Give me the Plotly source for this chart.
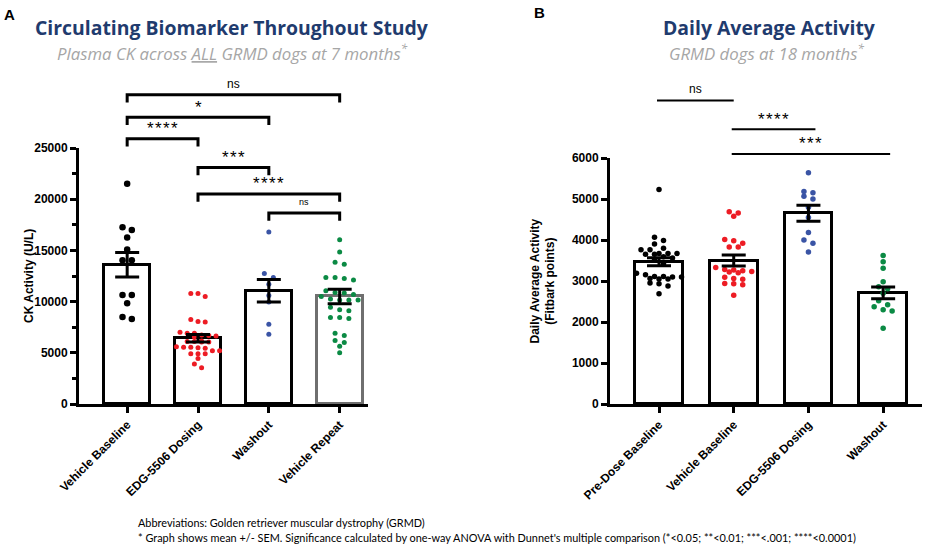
import plotly.graph_objects as go

# ---------------- data ----------------
A_categories = ["Vehicle Baseline", "EDG-5506 Dosing", "Washout", "Vehicle Repeat"]
A_mean = [13600, 6420, 11050, 10500]
A_sem = [1190, 360, 1100, 700]
A_vehicle_baseline = [21500, 17250, 17000, 16250, 15100, 14050, 14050, 10650, 10650, 9850, 8500, 8300]
A_edg_dosing = [10800, 10800, 10500, 8250, 8050, 8000, 7000, 6900, 6900, 6750, 6700, 6650, 6550, 6150,
                6100, 6100, 6050, 6050, 5600, 5550, 5550, 5500, 5450, 5200, 5200, 4900, 4900, 4900,
                4450, 3900, 3550]
A_washout = [16800, 12750, 12350, 11700, 10600, 9950, 7800, 6800]
A_vehicle_repeat = [16050, 14850, 13850, 13650, 12350, 12350, 12250, 12100, 11050, 10900, 10850, 10700,
                    10500, 10250, 10150, 10150, 10150, 9450, 9200, 9100, 8450, 8450, 8350, 6900, 6700,
                    6200, 6000, 5650, 5000]
A_yticks = [0, 5000, 10000, 15000, 20000, 25000]

B_categories = ["Pre-Dose Baseline", "Vehicle Baseline", "EDG-5506 Dosing", "Washout"]
B_mean = [3470, 3500, 4650, 2710]
B_sem = [100, 135, 195, 145]
B_predose = [5230, 4070, 3990, 3900, 3800, 3760, 3760, 3670, 3670, 3670, 3650, 3650, 3590, 3560, 3520,
             3420, 3190, 3150, 3110, 3110, 3100, 3100, 3060, 3050, 3050, 2950, 2930, 2880, 2690]
B_vehicle_baseline = [4690, 4660, 4580, 4010, 3980, 3920, 3830, 3830, 3330, 3280, 3270, 3250, 3230, 3220,
                      3200, 3090, 3060, 3040, 2940, 2930, 2910, 2650]
B_edg_dosing = [5640, 5180, 5150, 5070, 5000, 4800, 4550, 4180, 4000, 3920, 3710]
B_washout = [3620, 3470, 3310, 2980, 2860, 2810, 2700, 2520, 2420, 2370, 2300, 2270, 1850]
B_yticks = [0, 1000, 2000, 3000, 4000, 5000, 6000]

# significance comparisons: (from, to, label, bracket level in data units)
A_sig = [(0, 3, "ns", 30200), (0, 2, "*", 28000), (0, 1, "****", 25900),
         (1, 2, "***", 23100), (1, 3, "****", 20500), (2, 3, "ns", 18650)]
B_sig = [(0, 1, "ns", 7400), (1, 2, "****", 6700), (1, 3, "***", 6100)]

# ---------------- geometry ----------------
W, H = 936, 546
A_xdom = [79 / W, 368 / W]
A_ydom = [1 - 404 / H, 1 - 148 / H]
A_xr = [-0.68, 3.4]
A_yr = [0, 25000]
B_xdom = [610 / W, 922 / W]
B_ydom = [1 - 404 / H, 1 - 158 / H]
B_xr = [-0.656, 3.52]
B_yr = [0, 6000]

BLACK, RED, BLUE, GREEN, GRAY = "#000000", "#ED1C24", "#3A54A5", "#0B8A44", "#6F6F6F"
NAVY, SUBGRAY = "#1F3B6E", "#A6A6A6"
TF = "Liberation Sans, Arial, sans-serif"
HF = "Open Sans, Lato, sans-serif"
FF = "Lato, Calibri, sans-serif"


def px_per_val(ydom, yr):
    return (ydom[1] - ydom[0]) * H / (yr[1] - yr[0])


def px_per_cat(xdom, xr):
    return (xdom[1] - xdom[0]) * W / (xr[1] - xr[0])


def swarm(vals, ppv, ppc, spacing_px, row_px):
    order = sorted(range(len(vals)), key=lambda i: -vals[i])
    rows = []
    for i in order:
        if rows and (vals[rows[-1][0]] - vals[i]) * ppv <= row_px:
            rows[-1].append(i)
        else:
            rows.append([i])
    offs = [0.0] * len(vals)
    for r in rows:
        n = len(r)
        for k, i in enumerate(r):
            offs[i] = (k - (n - 1) / 2) * spacing_px / ppc
    return offs


def xp(c, xdom, xr):
    return xdom[0] + (c - xr[0]) / (xr[1] - xr[0]) * (xdom[1] - xdom[0])


def yp(v, ydom, yr):
    return ydom[0] + (v - yr[0]) / (yr[1] - yr[0]) * (ydom[1] - ydom[0])


def stars(lab):
    return "\u200a".join(lab)


fig = go.Figure()

# ---------------- Panel A ----------------
fig.add_trace(go.Bar(x=list(range(4)), y=A_mean, width=0.65, xaxis="x", yaxis="y",
                     marker=dict(color="white", line=dict(color=[BLACK, BLACK, BLACK, GRAY], width=3)),
                     showlegend=False, hoverinfo="skip"))
ppvA, ppcA = px_per_val(A_ydom, A_yr), px_per_cat(A_xdom, A_xr)
for idx, (vals, col, size, sp) in enumerate([(A_vehicle_baseline, BLACK, 6.5, 9.3),
                                             (A_edg_dosing, RED, 5, 7.2),
                                             (A_washout, BLUE, 5, 9.0),
                                             (A_vehicle_repeat, GREEN, 5, 9.2)]):
    offs = swarm(vals, ppvA, ppcA, sp, 4.5)
    fig.add_trace(go.Scatter(x=[idx + o for o in offs], y=vals, mode="markers", xaxis="x", yaxis="y",
                             marker=dict(color=col, size=size, line=dict(width=0)),
                             showlegend=False, hoverinfo="y"))
fig.add_trace(go.Scatter(x=list(range(4)), y=A_mean, mode="markers", xaxis="x", yaxis="y",
                         marker=dict(size=1, color="rgba(0,0,0,0)"),
                         error_y=dict(type="data", array=A_sem, color=BLACK, thickness=3, width=12),
                         showlegend=False, hoverinfo="skip"))

# ---------------- Panel B ----------------
fig.add_trace(go.Bar(x=list(range(4)), y=B_mean, width=0.64, xaxis="x2", yaxis="y2",
                     marker=dict(color="white", line=dict(color=BLACK, width=3)),
                     showlegend=False, hoverinfo="skip"))
ppvB, ppcB = px_per_val(B_ydom, B_yr), px_per_cat(B_xdom, B_xr)
for idx, (vals, col) in enumerate([(B_predose, BLACK), (B_vehicle_baseline, RED),
                                   (B_edg_dosing, BLUE), (B_washout, GREEN)]):
    offs = swarm(vals, ppvB, ppcB, 9.0, 4.5)
    fig.add_trace(go.Scatter(x=[idx + o for o in offs], y=vals, mode="markers", xaxis="x2", yaxis="y2",
                             marker=dict(color=col, size=5.5, line=dict(width=0)),
                             showlegend=False, hoverinfo="y"))
fig.add_trace(go.Scatter(x=list(range(4)), y=B_mean, mode="markers", xaxis="x2", yaxis="y2",
                         marker=dict(size=1, color="rgba(0,0,0,0)"),
                         error_y=dict(type="data", array=B_sem, color=BLACK, thickness=3, width=12),
                         showlegend=False, hoverinfo="skip"))

# ---------------- brackets & annotations ----------------
shapes, annots = [], []
legA = 750
for c0, c1, lab, lvl in A_sig:
    x0, x1 = xp(c0, A_xdom, A_xr), xp(c1, A_xdom, A_xr)
    yt, yl = yp(lvl, A_ydom, A_yr), yp(lvl - legA, A_ydom, A_yr)
    shapes.append(dict(type="path", xref="paper", yref="paper",
                       path=f"M {x0},{yl} L {x0},{yt} L {x1},{yt} L {x1},{yl}",
                       line=dict(color=BLACK, width=3)))
    small = (c0, c1) == (2, 3)
    if lab == "ns":
        txt, fsz, dy = lab, (9 if small else 12), 1050
    else:
        txt, fsz, dy = stars(lab), 17, 1000
    annots.append(dict(x=(x0 + x1) / 2, y=yp(lvl + dy, A_ydom, A_yr),
                       text=txt, font=dict(family=TF, size=fsz, color=BLACK)))

for c0, c1, lab, lvl in B_sig:
    x0 = xp(c0, B_xdom, B_xr) - 2 / W
    x1 = xp(c1, B_xdom, B_xr) + (0 if lab == "ns" else 7 / W)
    yt = yp(lvl, B_ydom, B_yr)
    shapes.append(dict(type="line", xref="paper", yref="paper", x0=x0, x1=x1, y0=yt, y1=yt,
                       line=dict(color=BLACK, width=2)))
    if lab == "ns":
        txt, fsz, dy = lab, 12, 290
    else:
        txt, fsz, dy = stars(lab), 17, 250
    annots.append(dict(x=(x0 + x1) / 2, y=yp(lvl + dy, B_ydom, B_yr),
                       text=txt, font=dict(family=TF, size=fsz, color=BLACK)))

# panel letters, titles, subtitles
annots += [
    dict(x=9 / W, y=1 - 14 / H, text="<b>A</b>", font=dict(family=TF, size=15, color=BLACK)),
    dict(x=539 / W, y=1 - 12.5 / H, text="<b>B</b>", font=dict(family=TF, size=15, color=BLACK)),
    dict(x=232 / W, y=1 - 27 / H, text="<b>Circulating Biomarker Throughout Study</b>",
         font=dict(family=HF, size=19.4, color=NAVY)),
    dict(x=232 / W, y=1 - 52 / H, text="<i>Plasma CK across <u>ALL</u> GRMD dogs at 7 months<sup>*</sup></i>",
         font=dict(family=HF, size=16.8, color=SUBGRAY)),
    dict(x=769 / W, y=1 - 27 / H, text="<b>Daily Average Activity</b>",
         font=dict(family=HF, size=19.4, color=NAVY)),
    dict(x=766 / W, y=1 - 52 / H, text="<i>GRMD dogs at 18 months<sup>*</sup></i>",
         font=dict(family=HF, size=16.8, color=SUBGRAY)),
    dict(x=29 / W, y=1 - 276 / H, text="<b>CK Activity (U/L)</b>", textangle=-90,
         font=dict(family=TF, size=12, color=BLACK)),
    dict(x=542.5 / W, y=1 - 281 / H, text="<b>Daily Average Activity<br>(Fitbark points)</b>", textangle=-90,
         font=dict(family=TF, size=12, color=BLACK)),
    dict(x=137 / W, y=1 - 522 / H, xanchor="left",
         text="Abbreviations: Golden retriever muscular dystrophy (GRMD)",
         font=dict(family=FF, size=10.9, color=BLACK)),
    dict(x=137 / W, y=1 - 537 / H, xanchor="left",
         text="* Graph shows mean +/- SEM. Significance calculated by one-way ANOVA with Dunnet's multiple "
              "comparison (*&lt;0.05; **&lt;0.01; ***&lt;.001; ****&lt;0.0001)",
         font=dict(family=FF, size=10.9, color=BLACK)),
]
for a in annots:
    a.setdefault("xref", "paper")
    a.setdefault("yref", "paper")
    a.setdefault("showarrow", False)
    a.setdefault("xanchor", "center")
    a.setdefault("yanchor", "middle")
    a.setdefault("borderpad", 0)

axis_common = dict(showline=True, linecolor=BLACK, linewidth=3, showgrid=False, zeroline=False,
                   ticks="outside", tickcolor=BLACK, tickwidth=2.5, ticklen=6, automargin=False,
                   tickfont=dict(family=TF, size=12, color=BLACK))

fig.update_layout(
    width=W, height=H, margin=dict(l=0, r=0, t=0, b=0, autoexpand=False),
    paper_bgcolor="white", plot_bgcolor="white", bargap=0, showlegend=False,
    xaxis=dict(domain=A_xdom, range=A_xr, anchor="y", tickvals=list(range(4)),
               ticktext=[f"<b>{c}</b>" for c in A_categories], tickangle=-45, **axis_common),
    yaxis=dict(domain=A_ydom, range=A_yr, anchor="x", tickvals=A_yticks,
               ticktext=[f"<b>{t}</b>" for t in A_yticks],
               minor=dict(ticks="outside", tickvals=[v + 2500 for v in A_yticks[:-1]], ticklen=4,
                          tickwidth=2.5, tickcolor=BLACK), **axis_common),
    xaxis2=dict(domain=B_xdom, range=B_xr, anchor="y2", tickvals=list(range(4)),
                ticktext=[f"<b>{c}</b>" for c in B_categories], tickangle=-45, **axis_common),
    yaxis2=dict(domain=B_ydom, range=B_yr, anchor="x2", tickvals=B_yticks,
                ticktext=[f"<b>{t}</b>" for t in B_yticks], **axis_common),
    shapes=shapes, annotations=annots,
)

fig.write_html("out.html")
